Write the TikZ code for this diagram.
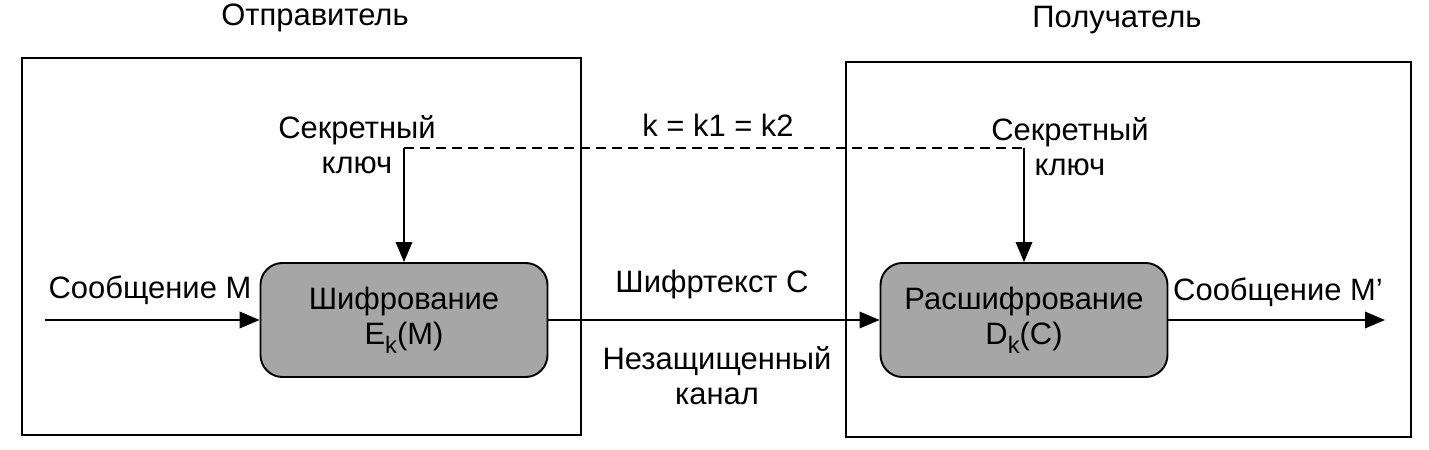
\documentclass[tikz,border=0pt]{standalone}
\usepackage{fontspec}
\setmainfont{Liberation Sans}
\usetikzlibrary{arrows.meta}
\definecolor{stagegray}{HTML}{A6A6A6}
\newcommand{\lowk}{\raisebox{-.55ex}{\fontsize{13.5}{13.5}\selectfont k}}
\tikzset{
  party frame/.style={draw=black,line width=1.1pt},
  stage/.style={draw=black,line width=1.1pt,fill=stagegray,rounded corners=4.4mm,
    minimum width=57.4mm,minimum height=22.8mm,align=center,inner sep=0pt},
  flow/.style={line width=1.1pt,-{Triangle[length=4mm,width=3.3mm]}},
  key line/.style={line width=1.1pt,dash pattern=on 2mm off 1.2mm},
  lbl/.style={align=center,inner sep=0pt}
}
\begin{document}
\begin{tikzpicture}[x=0.2mm,y=-0.2mm,font=\fontsize{17.6}{20}\selectfont]
  \useasboundingbox (0,0) rectangle (1429,450);
  % sender and receiver
  \draw[party frame] (22,58) rectangle (581,435);
  \draw[party frame] (846,62) rectangle (1411,437);
  \node[lbl] (sendertitle) at (315,18) {Отправитель};
  \node[lbl] (receivertitle) at (1117,20) {Получатель};
  \node[stage] (enc) at (404,320) {Шифрование\\E\lowk(M)};
  \node[stage] (dec) at (1024,320) {Расшифрование\\D\lowk(C)};
  % shared key
  \coordinate (keyL) at (404,148);
  \coordinate (keyR) at (1024,148);
  \draw[key line] (keyL) -- (keyR);
  \draw[flow] (keyL) -- (enc.north);
  \draw[flow] (keyR) -- (dec.north);
  \node[lbl] (keysender) at (357,145) {Секретный\\ключ};
  \node[lbl] (keyreceiver) at (1070,147) {Секретный\\ключ};
  \node[lbl] (keyeq) at (718,125) {k = k1 = k2};
  % message path
  \coordinate (msgin) at (45,320);
  \coordinate (msgout) at (1385,320);
  \draw[flow] (msgin) -- (enc.west);
  \draw[flow] (enc.east) -- (dec.west);
  \draw[flow] (dec.east) -- (msgout);
  \node[lbl] (msglabel) at (150,290) {Сообщение M};
  \node[lbl] (cipherlabel) at (712,285) {Шифртекст C};
  \node[lbl] (channellabel) at (717,376) {Незащищенный\\канал};
  \node[lbl] (outlabel) at (1278,292) {Сообщение M'};
\end{tikzpicture}
\end{document}
